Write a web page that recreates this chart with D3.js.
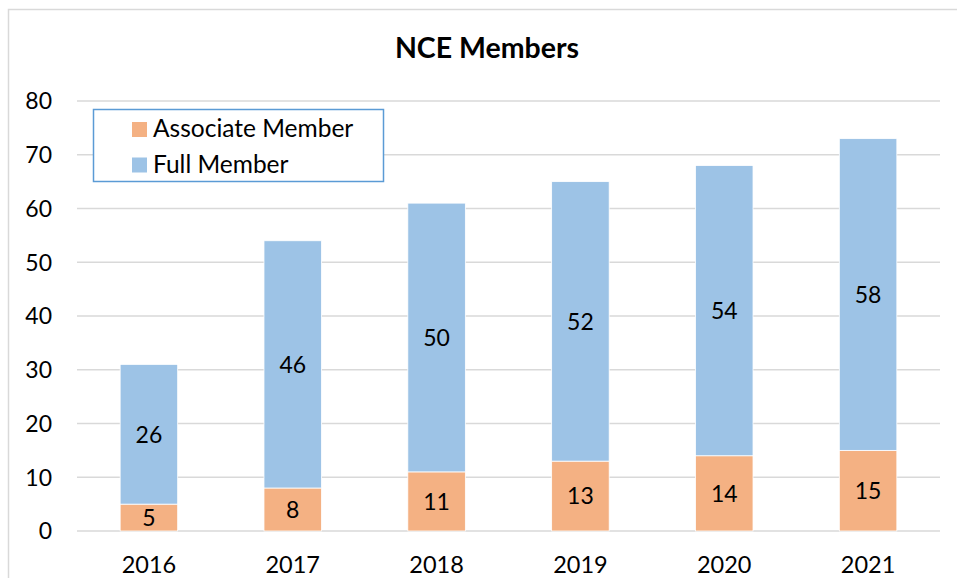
<!DOCTYPE html>
<html>
<head>
<meta charset="utf-8">
<script src="https://cdn.jsdelivr.net/npm/d3@7"></script>
<style>
  body { margin: 0; background: #fff; }
  svg { display: block; font-family: Lato, "Noto Sans", sans-serif; }
</style>
</head>
<body>
<div id="vis"></div>
<script>
const years = ['2016', '2017', '2018', '2019', '2020', '2021'];
const associate = [5, 8, 11, 13, 14, 15];
const full = [26, 46, 50, 52, 54, 58];
const seriesNames = ['Associate Member', 'Full Member'];
const yTicks = [0, 10, 20, 30, 40, 50, 60, 70, 80];

const width = 957;
const height = 578;
const margin = { top: 101, right: 17, bottom: 47, left: 77 };

const colors = { 'Associate Member': '#f4b183', 'Full Member': '#9dc3e6' };

const rows = years.map((y, i) => ({ year: y, 'Associate Member': associate[i], 'Full Member': full[i] }));
const stacked = d3.stack().keys(seriesNames)(rows);

const x = d3.scaleBand()
    .domain(years)
    .range([margin.left, width - margin.right])
    .paddingInner(0.6)
    .paddingOuter(0.3);

const y = d3.scaleLinear()
    .domain([0, 80])
    .range([height - margin.bottom, margin.top]);

const svg = d3.select('#vis')
    .append('svg')
    .attr('width', width)
    .attr('height', height);

// chart frame (only top/left visible in the crop)
svg.append('rect')
    .attr('x', 8.5)
    .attr('y', 9.5)
    .attr('width', width + 20)
    .attr('height', height + 20)
    .attr('fill', 'none')
    .attr('stroke', '#d9d9d9')
    .attr('stroke-width', 1.5);

// gridlines
svg.append('g')
    .selectAll('line')
    .data(yTicks)
    .join('line')
    .attr('x1', margin.left)
    .attr('x2', width - margin.right)
    .attr('y1', d => y(d))
    .attr('y2', d => y(d))
    .attr('stroke', '#d9d9d9')
    .attr('stroke-width', 1.3);

// y tick labels
svg.append('g')
    .selectAll('text')
    .data(yTicks)
    .join('text')
    .attr('x', 52)
    .attr('y', d => y(d))
    .attr('dy', '0.36em')
    .attr('text-anchor', 'end')
    .attr('font-size', '23px')
    .attr('fill', '#000')
    .text(d => d);

// x tick labels
svg.append('g')
    .selectAll('text')
    .data(years)
    .join('text')
    .attr('x', d => x(d) + x.bandwidth() / 2)
    .attr('y', 573)
    .attr('text-anchor', 'middle')
    .attr('font-size', '23.5px')
    .attr('fill', '#000')
    .text(d => d);

// bars
const layers = svg.append('g')
    .selectAll('g')
    .data(stacked)
    .join('g')
    .attr('fill', d => colors[d.key]);

layers.selectAll('rect')
    .data(d => d)
    .join('rect')
    .attr('x', d => x(d.data.year))
    .attr('y', d => y(d[1]))
    .attr('width', x.bandwidth())
    .attr('height', d => y(d[0]) - y(d[1]))
    .attr('stroke', '#fff')
    .attr('stroke-width', 0.8);

// data labels
layers.selectAll('text')
    .data(d => d.map(v => Object.assign({ key: d.key }, v)))
    .join('text')
    .attr('x', d => x(d.data.year) + x.bandwidth() / 2)
    .attr('y', d => (y(d[0]) + y(d[1])) / 2)
    .attr('dy', '0.36em')
    .attr('text-anchor', 'middle')
    .attr('font-size', '23px')
    .attr('fill', '#000')
    .text(d => d.data[d.key]);

// title
svg.append('text')
    .attr('x', 487)
    .attr('y', 58)
    .attr('text-anchor', 'middle')
    .attr('font-size', '28.5px')
    .attr('font-weight', 'bold')
    .attr('fill', '#000')
    .text('NCE Members');

// legend
const legend = svg.append('g');
legend.append('rect')
    .attr('x', 93.5)
    .attr('y', 109.5)
    .attr('width', 290)
    .attr('height', 72)
    .attr('fill', '#fff')
    .attr('stroke', '#5b9bd5')
    .attr('stroke-width', 1.5);

const entries = legend.selectAll('g')
    .data(seriesNames)
    .join('g')
    .attr('transform', (d, i) => `translate(132, ${122 + i * 35.5})`);

entries.append('rect')
    .attr('width', 15)
    .attr('height', 15)
    .attr('fill', d => colors[d]);

entries.append('text')
    .attr('x', 21)
    .attr('y', 15)
    .attr('font-size', '24.5px')
    .attr('fill', '#000')
    .text(d => d);
</script>
</body>
</html>
